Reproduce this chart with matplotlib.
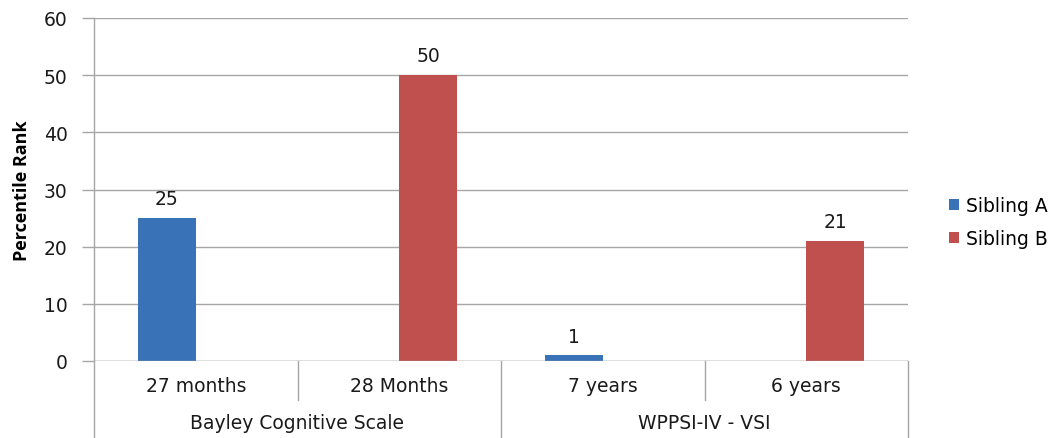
import matplotlib.pyplot as plt
import numpy as np
from matplotlib.patches import Patch
from matplotlib.transforms import blended_transform_factory

plt.rcParams['font.family'] = ['DejaVu Sans']

ages = ["27 months", "28 Months", "7 years", "6 years"]
tests = ["Bayley Cognitive Scale", "WPPSI-IV - VSI"]
sibling_a = [25, None, 1, None]
sibling_b = [None, 50, None, 21]
series_names = ["Sibling A", "Sibling B"]
colors = ["#3A72B8", "#C0504D"]

fig = plt.figure(figsize=(10.64, 4.39), dpi=100)
ax = fig.add_axes([94 / 1064, 77 / 439, 814 / 1064, 343 / 439])

x = np.arange(len(ages))
w = 0.285
grid_c = "#A6A6A6"
txt_c = "#1a1a1a"
fs = 13.5

for vals, off, c in [(sibling_a, -w / 2, colors[0]), (sibling_b, w / 2, colors[1])]:
    for xi, v in zip(x, vals):
        if v is None:
            continue
        ax.bar(xi + off, v, width=w, color=c, zorder=3)
        ax.annotate(str(v), (xi + off, v), xytext=(0, 7), textcoords="offset points",
                    ha="center", va="bottom", fontsize=fs, color=txt_c)

ax.set_xlim(-0.5, 3.5)
ax.set_ylim(0, 60)
ax.set_yticks(range(0, 61, 10))
ax.tick_params(axis="y", length=9, width=1.0, color=grid_c, labelsize=fs, pad=10,
               labelcolor=txt_c)
ax.set_xticks([])
ax.yaxis.grid(True, color=grid_c, linewidth=1.0, zorder=0)
for s in ["top", "right", "bottom"]:
    ax.spines[s].set_visible(False)
ax.spines["left"].set_color(grid_c)
ax.spines["left"].set_linewidth(1.0)
ax.axhline(0, color=grid_c, linewidth=1.0, zorder=4)

ax.set_ylabel("Percentile Rank", fontsize=13, fontweight="bold",
              family=["Liberation Sans Narrow", "Open Sans", "DejaVu Sans"])
ax.yaxis.set_label_coords(-0.077, 0.5)

# two-level category axis
tr = blended_transform_factory(ax.transData, ax.transAxes)
for xs in [-0.5, 1.5, 3.5]:
    ax.plot([xs, xs], [0, -0.23], transform=tr, color=grid_c, lw=1.0, clip_on=False)
for xs in [0.5, 2.5]:
    ax.plot([xs, xs], [0, -0.114], transform=tr, color=grid_c, lw=1.0, clip_on=False)
for xi, lab in zip(x, ages):
    ax.text(xi, -0.07, lab, transform=tr, ha="center", va="center", fontsize=fs, color=txt_c)
for gi, lab in enumerate(tests):
    ax.text(gi * 2 + 0.5, -0.178, lab, transform=tr, ha="center", va="center",
            fontsize=fs, color=txt_c)

handles = [Patch(facecolor=c, label=n) for c, n in zip(colors, series_names)]
fig.legend(handles=handles, loc="center left", bbox_to_anchor=(0.892, 0.491),
           frameon=False, fontsize=fs, handlelength=0.55, handleheight=0.55,
           handletextpad=0.35, labelspacing=0.75, borderpad=0, borderaxespad=0)

fig.savefig("out.png", dpi=100)
